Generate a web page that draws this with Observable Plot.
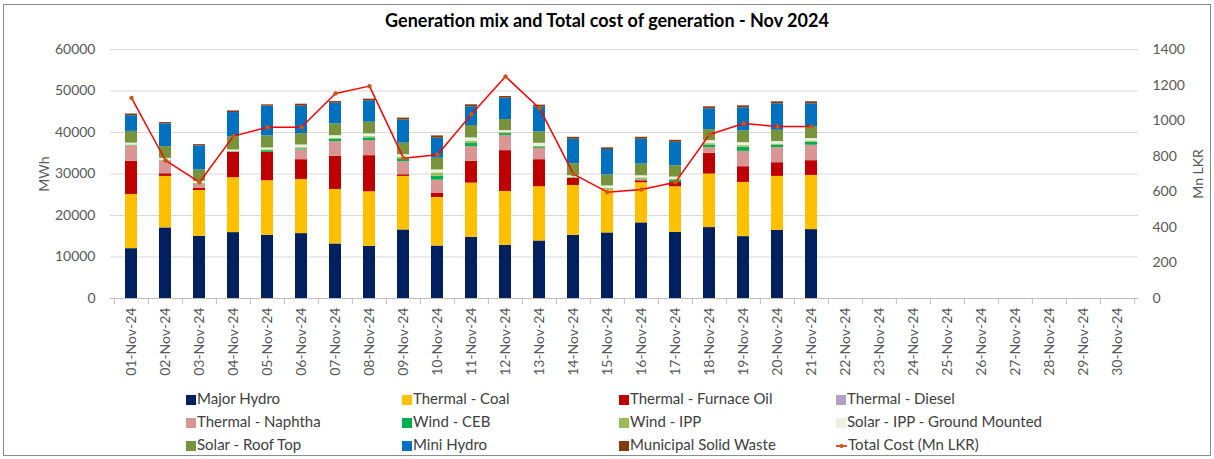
<!DOCTYPE html>
<html><head><meta charset="utf-8">
<script src="https://cdn.jsdelivr.net/npm/d3@7"></script>
<script src="https://cdn.jsdelivr.net/npm/@observablehq/plot@0.6"></script>
<style>
body{margin:0;background:#fff;font-family:Lato,"Open Sans",sans-serif;}
#frame{position:absolute;left:3px;top:4px;width:1208px;height:452px;border:1px solid #8c8c8c;box-sizing:border-box;}
#title{position:absolute;left:0;width:1214px;top:9px;text-align:center;font-weight:bold;font-size:18px;color:#000;}
#chart{position:absolute;left:0;top:30px;}
.lg{position:absolute;font-size:15px;color:#404040;white-space:nowrap;line-height:16px;}
.sw{display:inline-block;width:10px;height:10px;margin-right:1px;vertical-align:-1px;}
</style>
</head><body>
<div id="frame"></div>
<div id="title">Generation mix and Total cost of generation - Nov 2024</div>
<div id="chart"></div>
<div id="legend"></div>
<script>
const days = ["01-Nov-24","02-Nov-24","03-Nov-24","04-Nov-24","05-Nov-24","06-Nov-24","07-Nov-24","08-Nov-24","09-Nov-24","10-Nov-24",
"11-Nov-24","12-Nov-24","13-Nov-24","14-Nov-24","15-Nov-24","16-Nov-24","17-Nov-24","18-Nov-24","19-Nov-24","20-Nov-24",
"21-Nov-24","22-Nov-24","23-Nov-24","24-Nov-24","25-Nov-24","26-Nov-24","27-Nov-24","28-Nov-24","29-Nov-24","30-Nov-24"];

const seriesNames = ["Major Hydro","Thermal - Coal","Thermal - Furnace Oil","Thermal - Diesel","Thermal - Naphtha","Wind - CEB","Wind - IPP","Solar - IPP - Ground Mounted","Solar - Roof Top","Mini Hydro","Municipal Solid Waste"];
const seriesColors = ["#002060","#FFC000","#C00000","#B1A0C7","#DA9694","#00B050","#9BBB59","#EBF1DE","#77933C","#0070C0","#843C0C"];

const majorHydro   = [12010,17010,14990,15880,15230,15640,13140,12570,16520,12650,14750,12820,13860,15230,15800,18220,15960,17090,14910,16440,16600];
const thermalCoal  = [13070,12410,11040,13220,13140,13050,13140,13140,12900,11690,13060,12970,13060,12010,10310,9670,10960,12890,13060,12980,13060];
const furnaceOil   = [7980,640,490,6120,6850,4760,7980,8710,400,960,5240,9840,6530,1690,0,480,1050,5000,3790,3300,3550];
const diesel       = [0,0,0,0,0,0,0,0,0,0,0,0,0,0,0,0,0,0,0,0,0];
const naphtha      = [3630,2990,970,100,0,2340,3540,3630,3130,3210,3550,3620,2740,0,0,240,0,1370,3700,3630,3710];
const windCEB      = [100,100,80,60,400,250,560,645,560,960,810,480,200,100,50,100,560,560,970,560,730];
const windIPP      = [200,200,200,100,200,300,250,300,480,800,500,250,300,150,400,350,250,400,400,300,300];
const solarGround  = [450,420,450,300,450,650,630,670,640,720,790,480,710,400,560,520,480,730,730,590,590];
const solarRoof    = [2820,2820,2740,3140,2900,2740,2820,2820,2800,2810,2980,2660,2740,2900,2660,2820,2740,2660,2820,2740,2740];
const miniHydro    = [3790,5480,5800,5880,7170,6610,5000,5160,5560,4820,4510,5160,6050,5880,6130,5970,5640,5000,5560,6370,5640];
const msw          = [400,320,320,400,320,480,400,400,480,560,480,400,400,480,400,480,480,480,480,480,480];
const totalCost    = [1128,776,654,913,963,963,1153,1194,789,808,1036,1248,1070,699,598,613,654,922,984,967,967];

const mwhTicks  = [0,10000,20000,30000,40000,50000,60000];
const costTicks = [0,200,400,600,800,1000,1200,1400];

const seriesValues = [majorHydro,thermalCoal,furnaceOil,diesel,naphtha,windCEB,windIPP,solarGround,solarRoof,miniHydro,msw];
const long = [];
majorHydro.forEach((_, i) => {
  seriesNames.forEach((s, j) => long.push({day: days[i], series: s, value: seriesValues[j][i]}));
});
const costData = totalCost.map((c, i) => ({day: days[i], cost: c}));

const k = 60000 / 1400;
const W = 1214, ML = 110, MR = 76;
const step = (W - ML - MR) / days.length;
const axisGray = "#BFBFBF", textGray = "#595959";

const chart = Plot.plot({
  width: W, height: 353,
  marginLeft: ML, marginRight: MR, marginTop: 19, marginBottom: 85,
  style: {fontFamily: "Lato, 'Open Sans', sans-serif", fontSize: "14px", color: textGray, background: "transparent"},
  x: {type: "band", domain: days, paddingInner: 0.65, paddingOuter: 0.325, align: 0.5},
  y: {domain: [0, 60000]},
  color: {domain: seriesNames, range: seriesColors},
  marks: [
    Plot.gridY({ticks: mwhTicks, stroke: "#D9D9D9", strokeOpacity: 1}),
    Plot.barY(long, {x: "day", y: "value", fill: "series", order: seriesNames}),
    Plot.ruleY([0], {stroke: axisGray}),
    Plot.axisX({tickSize: 6, tickFormat: () => "", stroke: axisGray, dx: -step / 2, label: null}),
    Plot.axisX({ticks: [days[days.length - 1]], tickSize: 6, tickFormat: () => "", stroke: axisGray, dx: step / 2, label: null}),
    Plot.axisX({tickSize: 0, tickRotate: -90, tickPadding: 9, fontSize: 14, fill: textGray, label: null}),
    Plot.axisY({ticks: mwhTicks, tickFormat: v => String(v), tickSize: 0, tickPadding: 15, fontSize: 14, fill: textGray,
      label: "MWh", labelAnchor: "center", labelOffset: 71, labelArrow: false}),
    Plot.axisY({anchor: "right", ticks: costTicks.map(v => v * k), tickFormat: v => String(Math.round(v / k)),
      tickSize: 0, tickPadding: 14, fontSize: 14, fill: textGray,
      label: "Mn LKR", labelAnchor: "center", labelOffset: 64, labelArrow: false}),
    Plot.line(costData, {x: "day", y: d => d.cost * k, stroke: "#FF0000", strokeWidth: 1.5}),
    Plot.dot(costData, {x: "day", y: d => d.cost * k, r: 2.2, fill: "#C55A11", stroke: "none"})
  ]
});
document.getElementById("chart").appendChild(chart);

// legend
const legendItems = seriesNames.map((s, i) => ({name: s, color: seriesColors[i], kind: "box"}));
legendItems.push({name: "Total Cost (Mn LKR)", color: "#FF0000", kind: "line"});
const colX = [186, 402, 619, 836], rowY = [390, 413, 436];
const lg = document.getElementById("legend");
legendItems.forEach((it, i) => {
  const d = document.createElement("div");
  d.className = "lg";
  d.style.left = colX[i % 4] + "px";
  d.style.top = rowY[Math.floor(i / 4)] + "px";
  if (it.kind === "box") {
    d.innerHTML = `<span class="sw" style="background:${it.color}"></span>${it.name}`;
  } else {
    d.innerHTML = `<svg width="11" height="10" style="vertical-align:-1px;margin-right:1px"><line x1="0" x2="11" y1="5" y2="5" stroke="#FF0000" stroke-width="1.5"/><circle cx="5.5" cy="5" r="2" fill="#C55A11"/></svg>${it.name}`;
  }
  lg.appendChild(d);
});
</script>
</body></html>
